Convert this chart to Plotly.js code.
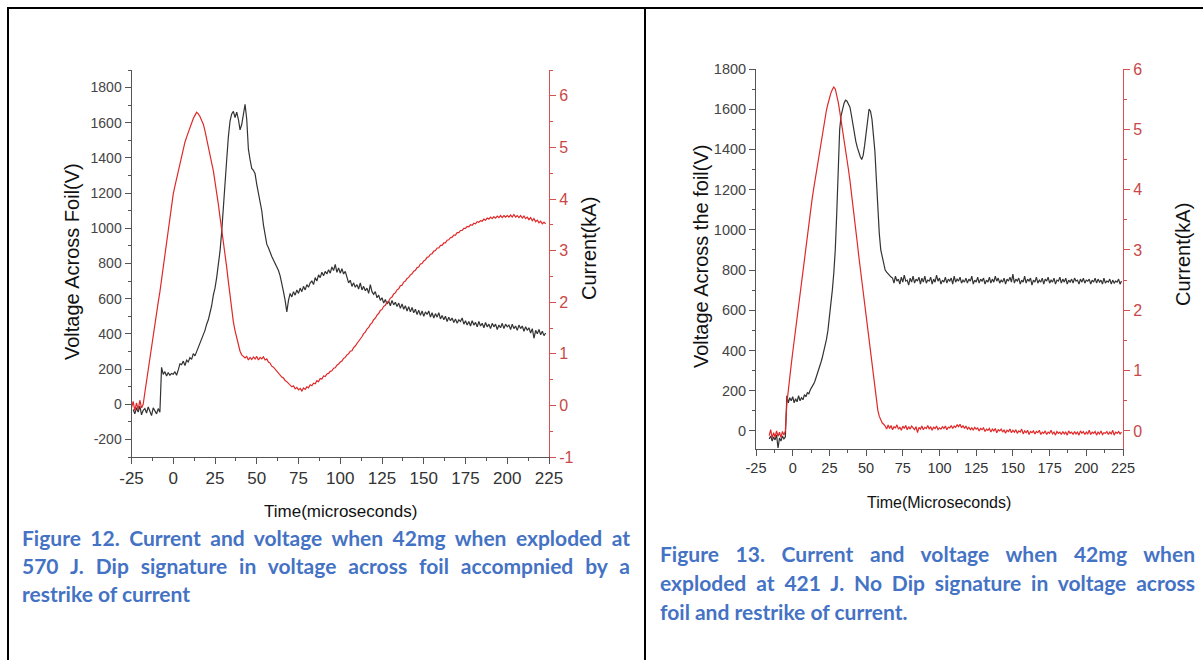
<!DOCTYPE html>
<html>
<head>
<meta charset="utf-8">
<script src="https://cdn.plot.ly/plotly-3.0.1.min.js"></script>
<style>
  html, body { margin: 0; padding: 0; background: #fff; }
  #wrap { position: relative; width: 1203px; height: 660px; overflow: hidden; }
  #plot { position: absolute; left: 0; top: 0; width: 1203px; height: 660px; }
  .cap { position: absolute; font-family: Lato, "Open Sans", sans-serif; font-weight: 700;
         color: #4472c4; font-size: 21px; line-height: 28px; }
  .cap .j { text-align: justify; text-align-last: justify; }
</style>
</head>
<body>
<div id="wrap">
  <div id="plot"></div>
  <div class="cap" id="cap1" style="left:22px; top:524px; width:608px;"></div>
  <div class="cap" id="cap2" style="left:660px; top:539px; width:535px; line-height:29px;"></div>
</div>
<script>
// ---------------- DATA ----------------
// Figure 12 (left): sampled every 1 microsecond
const fig12VoltageStart = -24;
const fig12Voltage = [
  -30,-55,-20,-45,-10,-60,-35,-25,-50,-15,-40,-65,-20,-35,-55,-25,-45,
  210,170,185,160,180,165,175,
  170,185,165,195,230,
  225,245,220,250,240,265,255,288,275,300,320,345,
  370,390,420,455,480,520,560,620,660,720,790,870,980,1100,1250,1390,1520,1610,1650,
  1665,1630,1660,1620,1560,1590,1660,1705,1620,
  1450,1390,1340,1330,1310,1250,1200,1160,1100,1020,960,910,890,860,840,820,800,785,760,730,690,640,590,525,
  590,630,610,640,620,650,630,660,640,670,650,680,665,690,700,680,720,700,735,720,750,730,755,740,765,745,780,760,795,750,775,745,
  770,740,755,720,690,705,670,690,665,680,655,690,650,670,645,660,630,680,640,625,640,605,620,590,605,575,595,570,585,560,
  590,565,580,555,575,545,570,540,560,530,555,525,550,520,540,510,535,505,530,500,525,510,530,495,520,490,515,495,520,485,
  505,480,500,470,495,475,490,465,485,460,480,470,490,455,475,450,470,445,475,450,465,440,470,445,460,435,465,440,455,430,
  460,440,455,425,450,435,460,430,455,440,450,425,455,430,445,420,450,430,445,415,440,420,435,405,430,375,420,400,425,395,415,390,405
];
const fig12CurrentStart = -25;
const fig12Current = [
  -0.05,0.08,-0.1,0.05,-0.08,0.1,-0.05,0.02,
  0.25,0.48,0.7,0.92,1.14,1.36,1.58,1.8,2.0,2.2,2.45,2.7,2.95,3.2,3.45,3.65,3.9,4.1,
  4.25,4.4,4.55,4.7,4.85,5.0,5.1,5.2,5.3,5.4,5.48,5.56,5.62,5.68,5.65,5.6,5.52,5.45,5.32,5.18,5.02,4.85,4.7,4.55,4.35,4.12,3.9,3.65,3.42,3.2,2.95,2.68,2.4,2.1,1.85,1.62,1.45,1.3,1.15,1.05,0.98,0.95,0.92,
  0.95,0.88,0.93,0.89,0.94,0.9,0.95,0.88,0.93,0.9,0.94,0.88,0.9,0.84,0.82,0.76,0.74,
  0.7,0.68,0.62,0.6,0.55,0.53,0.48,0.46,0.42,0.4,0.36,0.38,0.32,0.35,0.3,0.33,0.28,0.34,0.31,0.36,
  0.34,0.4,0.38,0.43,0.42,0.48,0.46,0.52,0.51,0.57,0.56,0.61,0.62,0.66,0.67,0.72,0.73,0.78,0.8,0.84,
  0.86,0.91,0.93,0.98,1.0,1.05,1.06,1.12,1.15,1.2,1.24,1.3,1.33,1.39,1.42,1.48,1.51,1.57,1.6,1.66,1.69,1.75,1.78,1.84,1.86,1.92,1.94,2.0,2.02,2.08,
  2.1,2.16,2.18,2.24,2.26,2.32,2.33,2.39,2.41,2.46,2.48,2.53,2.55,2.6,2.62,2.67,2.68,2.74,2.75,2.8,2.82,2.87,2.88,2.93,2.94,2.99,3.0,3.05,3.05,3.1,
  3.1,3.15,3.15,3.2,3.21,3.25,3.26,3.3,3.3,3.35,3.35,3.39,3.39,3.43,3.43,3.47,3.46,3.5,3.49,3.53,3.52,3.56,3.55,3.58,3.57,3.61,3.59,3.63,3.61,3.65,
  3.62,3.66,3.63,3.67,3.64,3.68,3.64,3.68,3.65,3.68,3.65,3.69,3.65,3.7,3.65,3.68,3.64,3.68,3.63,3.67,3.62,3.65,3.6,3.64,3.58,3.62,3.56,3.59,3.54,3.57,3.52,3.55,3.52
];

// Figure 13 (right): sampled every 1 microsecond
const fig13Start = -16;
const fig13Voltage = [
  -40,-25,-50,-30,-45,-20,-85,-35,-50,-25,-40,-30,
  175,140,165,150,170,140,160,145,175,150,165,155,180,170,190,185,205,215,230,245,265,285,305,335,360,390,420,455,500,560,620,700,785,900,1080,1350,1500,1570,1610,1630,1645,1640,1625,1610,1570,1520,1480,1440,1410,1380,1365,1350,1370,1420,1480,1550,1600,1590,1550,1470,1390,1250,1100,980,900,870,830,800,790,780,770,765,
  760,735,770,745,755,730,765,740,775,745,
  750,725,760,740,770,735,755,745,765,730,
  760,740,770,735,750,745,765,730,755,740,
  775,745,760,730,750,740,765,735,755,745,
  760,730,770,740,755,745,765,735,750,740,
  760,735,755,745,770,730,750,740,765,735,
  755,745,760,730,750,740,765,735,755,740,
  770,745,760,735,750,740,760,730,755,745,
  765,740,780,735,755,745,760,730,750,740,
  770,735,755,745,760,725,750,740,765,735,
  750,740,760,730,755,745,765,735,750,740,
  760,730,750,745,765,735,755,740,760,730,
  750,740,755,735,760,745,750,730,755,740,
  760,735,750,745,755,730,750,740,760,735,
  755,740,750,730,760,735,745,740,755,730,
  750,735,745,740,755,730,745
];
const fig13Current = [
  -0.08,0.02,-0.12,-0.03,-0.1,0.0,-0.09,-0.02,-0.11,-0.01,-0.07,0.0,
  0.45,0.7,0.9,1.1,1.3,1.5,1.7,1.88,2.07,2.25,2.45,2.62,2.8,3.0,3.2,3.4,3.6,3.8,3.97,4.12,4.3,4.45,4.6,4.75,4.9,5.05,5.2,5.32,5.42,5.52,5.6,5.66,5.7,5.67,5.58,5.45,5.3,5.15,5.0,4.85,4.68,4.5,4.33,4.15,3.96,3.75,3.55,3.35,3.12,2.9,2.7,2.5,2.3,2.1,1.88,1.68,1.46,1.25,1.05,0.85,0.66,0.48,0.34,0.24,0.17,0.13,0.11,
  0.08,0.03,0.1,0.04,0.09,0.02,0.07,0.05,0.1,0.03,
  0.06,0.01,0.08,0.04,0.09,0.02,0.07,0.03,0.08,0.05,
  0.02,0.07,-0.03,0.06,0.03,0.08,0.02,0.06,0.04,0.09,
  0.03,0.07,0.01,0.06,0.04,0.08,0.02,0.05,0.03,0.07,
  0.04,0.08,0.02,0.06,0.05,0.09,0.04,0.08,0.06,0.1,
  0.07,0.11,0.05,0.09,0.04,0.08,0.03,0.06,0.02,0.05,
  0.01,0.06,0.03,0.05,0.0,0.04,0.02,0.05,-0.01,0.03,
  0.01,0.04,-0.02,0.03,0.0,0.04,-0.03,0.02,0.0,0.03,
  -0.02,0.02,-0.04,0.01,-0.01,0.03,-0.03,0.01,-0.02,0.02,
  -0.04,0.0,-0.02,0.03,-0.05,0.0,-0.03,0.01,-0.06,-0.01,
  -0.03,0.0,-0.05,-0.01,-0.03,0.01,-0.06,-0.02,-0.04,0.0,
  -0.06,-0.02,-0.04,0.01,-0.05,-0.02,-0.07,-0.01,-0.04,-0.02,
  -0.06,-0.01,-0.05,-0.02,-0.07,0.0,-0.04,-0.02,-0.06,-0.01,
  -0.05,-0.02,-0.07,0.0,-0.04,-0.01,-0.06,-0.02,-0.05,0.01,
  -0.06,-0.02,-0.04,-0.01,-0.07,-0.02,-0.05,0.0,-0.06,-0.03,
  -0.04,-0.01,-0.06,-0.02,-0.05,0.01,-0.07,-0.02,-0.04,-0.01,
  -0.05,-0.02
];

const timeTicks = [-25, 0, 25, 50, 75, 100, 125, 150, 175, 200, 225];
const timeTickLabels = ['-25', '0', '25', '50', '75', '100', '125', '150', '175', '200', '225'];
const voltageTicks = [-200, 0, 200, 400, 600, 800, 1000, 1200, 1400, 1600, 1800];
const voltageTickLabels = ['-200', '0', '200', '400', '600', '800', '1000', '1200', '1400', '1600', '1800'];
const currentTicks12 = [-1, 0, 1, 2, 3, 4, 5, 6];
const currentTickLabels12 = ['-1', '0', '1', '2', '3', '4', '5', '6'];
const currentTicks13 = [0, 1, 2, 3, 4, 5, 6];
const currentTickLabels13 = ['0', '1', '2', '3', '4', '5', '6'];

const caption12 = [
  "Figure 12. Current and voltage when 42mg when exploded at",
  "570 J. Dip signature in voltage across foil accompnied by a",
  "restrike of current"
];
const caption13 = [
  "Figure 13. Current and voltage when 42mg when",
  "exploded at 421 J. No Dip signature in voltage across",
  "foil and restrike of current."
];

// ---------------- STYLE ----------------
const W = 1203, H = 660;
const px = x => x / W;
const py = y => 1 - y / H;
const SANS = '"Liberation Sans", Arial, sans-serif';
const AX = '#555555';
const RED = '#e02828';
const REDAX = '#d65050';
const REDTXT = '#c84848';
const BLK = '#333333';

function xAxisBase(domain, anchor, fontSize) {
  return {
    domain: domain, anchor: anchor, range: [-25, 225], tickmode: 'array', tickvals: timeTicks, ticktext: timeTickLabels,
    ticks: 'outside', ticklen: 6, tickwidth: 1, tickcolor: AX,
    showline: true, linecolor: AX, linewidth: 1, zeroline: false, showgrid: false,
    tickfont: { family: SANS, size: fontSize, color: '#333' },
    minor: { tickmode: 'linear', tick0: -12.5, dtick: 25, ticks: 'outside', ticklen: 3, tickcolor: AX },
    fixedrange: true
  };
}
function xAxisTop(overlay, anchor, color, width) {
  return {
    overlaying: overlay, anchor: anchor, side: 'top', range: [-25, 225],
    tickmode: 'array', tickvals: timeTicks, showticklabels: false,
    ticks: 'inside', ticklen: 6, tickwidth: 1.5, tickcolor: '#222',
    showline: true, linecolor: color, linewidth: width, zeroline: false, showgrid: false,
    minor: { tickmode: 'linear', tick0: -12.5, dtick: 25, ticks: 'inside', ticklen: 3, tickcolor: '#444' },
    fixedrange: true
  };
}
function yLeft(domain, anchor, range, fontSize) {
  return {
    domain: domain, anchor: anchor, range: range, tickmode: 'array', tickvals: voltageTicks, ticktext: voltageTickLabels,
    ticks: 'outside', ticklen: 6, tickcolor: AX, showline: true, linecolor: AX, linewidth: 1,
    zeroline: false, showgrid: false,
    tickfont: { family: SANS, size: fontSize, color: '#444' },
    minor: { tickmode: 'linear', tick0: 100, dtick: 200, ticks: 'outside', ticklen: 3, tickcolor: AX },
    fixedrange: true
  };
}
function yRight(overlay, anchor, range, ticks, labels, fontSize) {
  return {
    overlaying: overlay, anchor: anchor, side: 'right', range: range,
    tickmode: 'array', tickvals: ticks, ticktext: labels,
    ticks: 'outside', ticklen: 6, tickcolor: REDAX, showline: true, linecolor: REDAX, linewidth: 1,
    zeroline: false, showgrid: false,
    tickfont: { family: SANS, size: fontSize, color: REDTXT },
    minor: { tickmode: 'linear', tick0: 0.5, dtick: 1, ticks: 'outside', ticklen: 3, tickcolor: REDAX },
    fixedrange: true
  };
}

const traces = [
  { type: 'scatter', mode: 'lines', name: 'Voltage (Fig. 12)', y: fig12Voltage, x0: fig12VoltageStart, dx: 1,
    xaxis: 'x', yaxis: 'y', line: { color: BLK, width: 1.2 }, hoverinfo: 'skip' },
  { type: 'scatter', mode: 'lines', name: 'Current (Fig. 12)', y: fig12Current, x0: fig12CurrentStart, dx: 1,
    xaxis: 'x', yaxis: 'y2', line: { color: RED, width: 1.2 }, hoverinfo: 'skip' },
  { type: 'scatter', mode: 'lines', name: 'Voltage (Fig. 13)', y: fig13Voltage, x0: fig13Start, dx: 1,
    xaxis: 'x2', yaxis: 'y3', line: { color: BLK, width: 1.2 }, hoverinfo: 'skip' },
  { type: 'scatter', mode: 'lines', name: 'Current (Fig. 13)', y: fig13Current, x0: fig13Start, dx: 1,
    xaxis: 'x2', yaxis: 'y4', line: { color: RED, width: 1.2 }, hoverinfo: 'skip' }
];

const d1x = [px(131.5), px(549)], d1y = [py(457), py(70)];
const d2x = [px(756), px(1123)], d2y = [py(449), py(69)];

function title(text, x, y, angle, size) {
  return { text: text, xref: 'paper', yref: 'paper', x: px(x), y: py(y), xanchor: 'center', yanchor: 'middle',
           textangle: angle, showarrow: false, font: { family: SANS, size: size, color: '#111' } };
}

const layout = {
  width: W, height: H, margin: { l: 0, r: 0, t: 0, b: 0 },
  paper_bgcolor: '#ffffff', plot_bgcolor: 'rgba(0,0,0,0)', showlegend: false,
  xaxis: xAxisBase(d1x, 'y', 17),
  xaxis3: xAxisTop('x', 'y', '#000000', 2.5),
  yaxis: yLeft(d1y, 'x', [-300, 1900], 14),
  yaxis2: yRight('y', 'x', [-1, 6.5], currentTicks12, currentTickLabels12, 16),
  xaxis2: xAxisBase(d2x, 'y3', 14.5),
  xaxis4: xAxisTop('x2', 'y3', AX, 1),
  yaxis3: yLeft(d2y, 'x2', [-90, 1800], 14.5),
  yaxis4: yRight('y3', 'x2', [-0.3, 6], currentTicks13, currentTickLabels13, 16),
  annotations: [
    title('Voltage Across Foil(V)', 72, 262, -90, 20),
    title('Time(microseconds)', 340, 511, 0, 17),
    title('Current(kA)', 589, 249, -90, 20),
    title('Voltage Across the foil(V)', 701, 257, -90, 20),
    title('Time(Microseconds)', 939, 502, 0, 16),
    title('Current(kA)', 1183, 255, -90, 20)
  ],
  shapes: [
    { type: 'line', xref: 'paper', yref: 'paper', x0: px(7), x1: px(1203), y0: py(8), y1: py(8), line: { color: '#000', width: 2 } },
    { type: 'line', xref: 'paper', yref: 'paper', x0: px(8), x1: px(8), y0: py(7), y1: py(660), line: { color: '#000', width: 2 } },
    { type: 'line', xref: 'paper', yref: 'paper', x0: px(645), x1: px(645), y0: py(7), y1: py(660), line: { color: '#000', width: 2 } }
  ]
};

Plotly.newPlot('plot', traces, layout, { displayModeBar: false, staticPlot: true });

function fillCaption(id, lines) {
  const el = document.getElementById(id);
  lines.forEach((t, i) => {
    const d = document.createElement('div');
    if (i < lines.length - 1) d.className = 'j';
    d.textContent = t;
    el.appendChild(d);
  });
}
fillCaption('cap1', caption12);
fillCaption('cap2', caption13);
</script>
</body>
</html>
